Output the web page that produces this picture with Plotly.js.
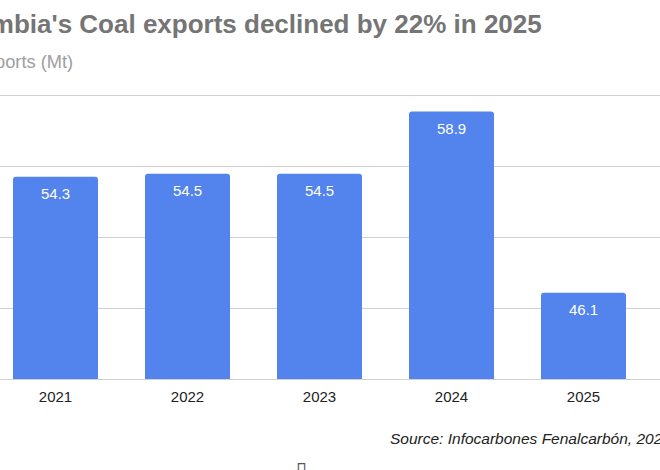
<!DOCTYPE html>
<html>
<head>
<meta charset="utf-8">
<script src="https://cdn.plot.ly/plotly-3.0.1.min.js"></script>
<style>html,body{margin:0;padding:0;background:#fff;}#chart{width:660px;height:470px;}</style>
</head>
<body>
<div id="chart"></div>
<script>
var years = ["2021", "2022", "2023", "2024", "2025"];
var exportsMt = [54.3, 54.5, 54.5, 58.9, 46.1];
var titleText = "Colombia's Coal exports declined by 22% in 2025";
var subtitleText = "Coal exports (Mt)";
var sourceText = "Source: Infocarbones Fenalcarbón, 2025";

var FONT = "Liberation Sans, Arial, sans-serif";
var W = 660, TOP = 96, BOT = 379;
function py(px) { return (BOT - px) / (BOT - TOP); }
function pxX(px) { return px / W; }

var barLabels = years.map(function (y, i) {
  return {
    x: i, y: exportsMt[i], xref: 'x', yref: 'y',
    text: exportsMt[i].toFixed(1), showarrow: false,
    yanchor: 'top', yshift: -6,
    font: {family: FONT, size: 15, color: '#ffffff'}
  };
});

var annotations = barLabels.concat([
  {text: '<b>' + titleText + '</b>', xref: 'paper', yref: 'paper', x: pxX(-69), y: py(24),
   xanchor: 'left', yanchor: 'middle', showarrow: false,
   font: {family: FONT, size: 26, color: '#757575'}},
  {text: subtitleText, xref: 'paper', yref: 'paper', x: pxX(-69), y: py(61),
   xanchor: 'left', yanchor: 'middle', showarrow: false,
   font: {family: FONT, size: 18.3, color: '#9e9e9e'}},
  {text: '<i>' + sourceText + '</i>', xref: 'paper', yref: 'paper', x: pxX(388), y: py(438),
   xanchor: 'left', yanchor: 'middle', showarrow: false,
   font: {family: FONT, size: 15.5, color: '#222222'}},
  {text: '\u25AF', xref: 'paper', yref: 'paper', x: pxX(301), y: py(469),
   xanchor: 'center', yanchor: 'middle', showarrow: false,
   font: {family: 'DejaVu Sans', size: 20, color: '#555555'}}
]);

var trace = {
  type: 'bar',
  x: years,
  y: exportsMt,
  width: 0.644,
  marker: {color: '#5383ec', cornerradius: 3},
  hoverinfo: 'none'
};

var layout = {
  width: 660, height: 470,
  margin: {l: 0, r: 0, t: TOP, b: 470 - BOT, pad: 0},
  paper_bgcolor: '#ffffff', plot_bgcolor: '#ffffff',
  showlegend: false,
  xaxis: {
    type: 'category', range: [-0.4205, 4.5795], fixedrange: true,
    showgrid: false, zeroline: false, ticks: '',
    showline: true, mirror: true, linecolor: '#d0d0d0', linewidth: 1,
    ticklabelstandoff: 4,
    tickfont: {family: FONT, size: 15, color: '#222222'},
    automargin: false
  },
  yaxis: {
    range: [40, 60], dtick: 5, tick0: 0, showticklabels: false,
    showgrid: true, gridcolor: '#d0d0d0', gridwidth: 1,
    zeroline: false, showline: false, ticks: '', automargin: false, fixedrange: true
  },
  annotations: annotations
};

Plotly.newPlot('chart', [trace], layout, {displayModeBar: false, staticPlot: true});
</script>
</body>
</html>
